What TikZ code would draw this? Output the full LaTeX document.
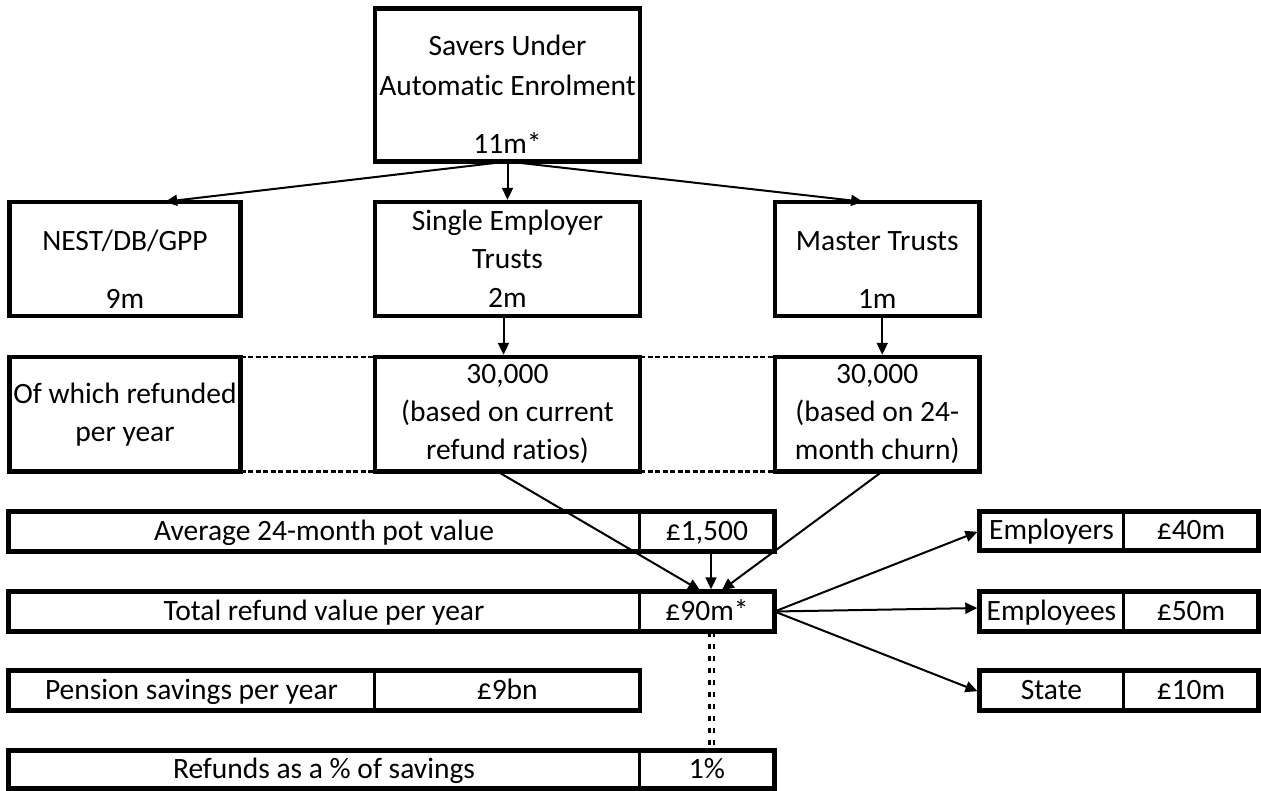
\documentclass[tikz,border=0pt]{standalone}
\usepackage{fontspec}
\setmainfont{Carlito}[Ligatures=NoCommon]
\usetikzlibrary{arrows.meta,positioning}
\newcommand{\liftline}[1]{\rule{0pt}{#1}}

\begin{document}
\begin{tikzpicture}[
  x=1pt, y=-1pt,
  every node/.style={font=\fontsize{29.5}{38}\selectfont},
  box/.style={draw, line width=4.5pt, outer sep=0pt, inner sep=0pt, align=center},
  cell/.style={draw, line width=2.6pt, outer sep=0pt, inner sep=0pt, minimum height=40pt,
    text height=22pt, text depth=5pt},
  rowline/.style={line width=4.5pt},
  arr/.style={-{Triangle[length=12pt,width=11pt]}, line width=2pt, shorten >=2.2pt},
  gapline/.style={line width=2.7pt, dash pattern=on 5pt off 2.5pt},
  splitline/.style={line width=2.3pt, dash pattern=on 5pt off 7pt},
]
  \useasboundingbox (0,0) rectangle (1261,791);

  % Top box
  \node[box, minimum width=265pt, minimum height=153pt] (ae) at (507.5,85)
    {\liftline{40pt}Savers Under\\[2pt]Automatic Enrolment\\[20pt]11m*};

  % Scheme types
  \node[box, minimum width=231pt, minimum height=114pt] (nest) at (125,259)
    {\liftline{42pt}NEST/DB/GPP\\[20pt]9m};
  \node[box, minimum width=265pt, minimum height=114pt] (set) at (507.5,259)
    {Single Employer\\Trusts\\[1pt]2m};
  \node[box, minimum width=204.5pt, minimum height=114pt] (mst) at (877.25,259)
    {\liftline{42pt}Master Trusts\\[20pt]1m};

  % Refunded per year
  \node[box, minimum width=231pt, minimum height=114.5pt] (nestr) at (125,414.25)
    {Of which refunded\\per year};
  \node[box, minimum width=265pt, minimum height=114.5pt] (setr) at (507.5,414.25)
    {30,000\\(based on current\\refund ratios)};
  \node[box, minimum width=204.5pt, minimum height=114.5pt] (mstr) at (877.25,414.25)
    {30,000\\(based on 24-\\month churn)};

  \draw[gapline] (nestr.north east) -- (setr.north west);
  \draw[gapline] (nestr.south east) -- (setr.south west);
  \draw[gapline] (setr.north east) -- (mstr.north west);
  \draw[gapline] (setr.south east) -- (mstr.south west);

  % Value rows
  \node[cell, minimum width=631pt] (avgl) at (324,531.5) {Average 24-month pot value};
  \node[cell, minimum width=135pt, right=0pt of avgl] (avgv) {£1,500};
  \node[cell, minimum width=631pt] (totl) at (324,611.5) {Total refund value per year};
  \node[cell, minimum width=135pt, right=0pt of totl] (totv) {£90m*};
  \node[cell, minimum width=366pt] (penl) at (191.5,690.5) {Pension savings per year};
  \node[cell, minimum width=265.5pt, right=0pt of penl] (penv) {£9bn};
  \node[cell, minimum width=631pt, minimum height=38pt] (refl) at (324,769.5) {Refunds as a \% of savings};
  \node[cell, minimum width=135pt, minimum height=38pt, right=0pt of refl] (refv) {1\%};

  % Split of refunds
  \node[cell, minimum width=144pt, minimum height=39pt] (emr) at (1051.5,531) {Employers};
  \node[cell, minimum width=135pt, minimum height=39pt, right=0pt of emr] (emv) {£40m};
  \node[cell, minimum width=144pt] (eer) at (1051.5,611.5) {Employees};
  \node[cell, minimum width=135pt, right=0pt of eer] (eev) {£50m};
  \node[cell, minimum width=144pt] (str) at (1051.5,690.5) {State};
  \node[cell, minimum width=135pt, right=0pt of str] (stv) {£10m};

  \foreach \l/\v in {avgl/avgv, totl/totv, penl/penv, refl/refv, emr/emv, eer/eev, str/stv}
    \draw[rowline] (\l.north west) rectangle (\v.south east);

  % Arrows
  \draw[arr] (ae.south) -- ([xshift=38pt]nest.north);
  \draw[arr] (ae.south) -- (set.north);
  \draw[arr] (ae.south) -- ([xshift=-12pt]mst.north);
  \draw[arr] ([xshift=-4pt]set.south) -- ([xshift=-4pt]setr.north);
  \draw[arr] ([xshift=5pt]mst.south) -- ([xshift=5pt]mstr.north);
  \draw[arr] ([xshift=-10pt]setr.south) -- ([xshift=-5pt]totv.north);
  \draw[arr] ([xshift=4pt]avgv.south) -- ([xshift=4pt]totv.north);
  \draw[arr] ([xshift=5pt]mstr.south) -- ([xshift=13pt]totv.north);
  \draw[arr] (totv.east) -- (emr.west);
  \draw[arr] (totv.east) -- ([yshift=3.5pt]eer.west);
  \draw[arr] (totv.east) -- ([yshift=-1.5pt]str.west);

  \draw[splitline] ([xshift=2.5pt]totv.south) -- ([xshift=2.5pt]refv.north);
  \draw[splitline] ([xshift=7pt]totv.south) -- ([xshift=7pt]refv.north);
\end{tikzpicture}
\end{document}
